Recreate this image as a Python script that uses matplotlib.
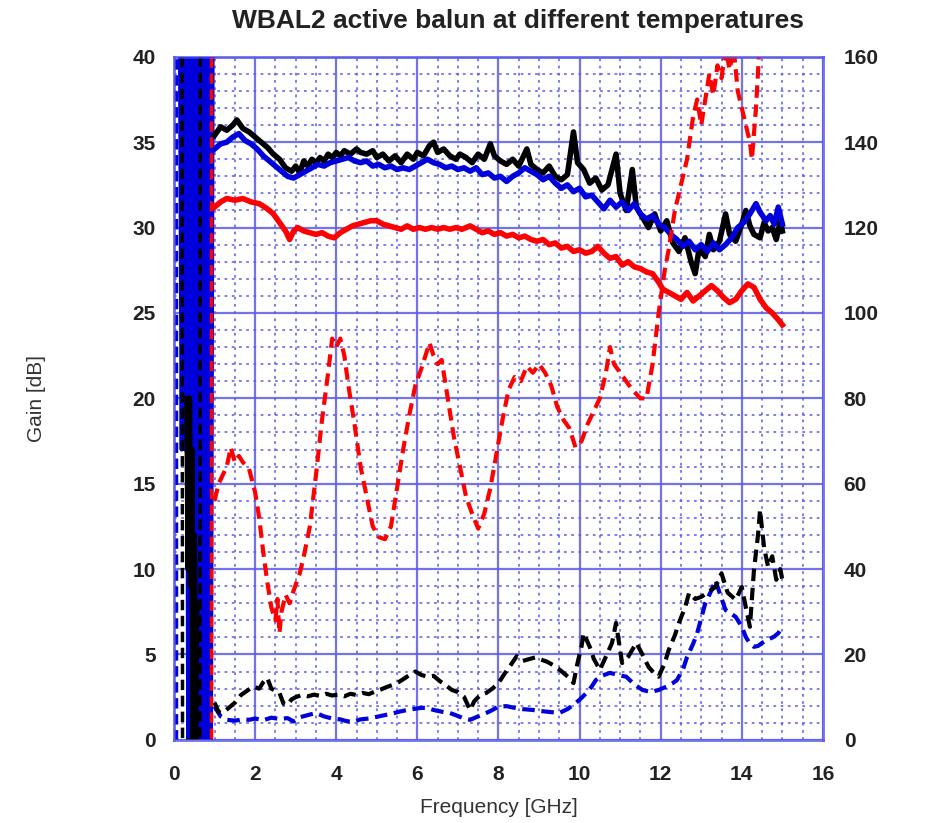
import matplotlib
matplotlib.use("Agg")
import matplotlib.pyplot as plt
import numpy as np

plt.rcParams['font.family'] = ['Liberation Sans', 'DejaVu Sans']

# ---- data ----
# gain traces (left axis, dB)
freq_k = [1.0, 1.15, 1.3, 1.45, 1.55, 1.7, 1.85, 2.0, 2.15, 2.3, 2.45, 2.6, 2.75, 2.9, 3.0, 3.1, 3.2, 3.3, 3.4, 3.5,
          3.6, 3.7, 3.8, 3.9, 4.0, 4.1, 4.2, 4.35, 4.5, 4.6, 4.75, 4.9, 5.0, 5.15, 5.3, 5.45, 5.6, 5.75, 5.9, 6.0,
          6.15, 6.3, 6.4, 6.5, 6.65, 6.8, 6.95, 7.05, 7.2, 7.35, 7.5, 7.65, 7.8, 7.9, 8.05, 8.2, 8.35, 8.5, 8.7, 8.8,
          8.95, 9.1, 9.25, 9.4, 9.55, 9.7, 9.85, 9.95, 10.1, 10.25, 10.4, 10.55, 10.7, 10.9, 11.0, 11.15, 11.3, 11.4,
          11.55, 11.7, 11.85, 12.0, 12.15, 12.3, 12.45, 12.6, 12.75, 12.85, 12.95, 13.1, 13.2, 13.3, 13.45, 13.6,
          13.7, 13.85, 14.0, 14.1, 14.2, 14.3, 14.45, 14.55, 14.65, 14.75, 14.85, 14.95, 15.0]
gain_k = [35.4, 35.9, 35.7, 36.0, 36.3, 35.8, 35.6, 35.3, 35.0, 34.7, 34.3, 34.0, 33.5, 33.3, 33.6, 33.2, 33.9, 33.6,
          34.0, 33.8, 34.1, 33.9, 34.3, 34.1, 34.4, 34.2, 34.5, 34.3, 34.6, 34.4, 34.3, 34.5, 34.1, 34.3, 33.9, 34.2,
          33.8, 34.3, 34.0, 34.4, 34.2, 34.8, 35.0, 34.4, 34.6, 34.2, 34.0, 34.3, 34.1, 33.8, 34.3, 34.0, 34.9, 34.2,
          33.9, 33.7, 34.0, 33.6, 34.6, 33.7, 33.4, 33.2, 33.6, 33.0, 32.8, 33.1, 35.6, 33.8, 33.4, 32.6, 32.9, 32.2,
          32.5, 34.3, 32.0, 31.0, 33.4, 31.2, 30.6, 30.0, 30.8, 29.8, 30.4, 29.1, 28.6, 29.4, 28.0, 27.3, 28.8, 28.3,
          29.6, 28.7, 29.2, 30.8, 29.6, 29.2, 30.2, 31.0, 30.1, 29.6, 29.4, 30.3, 29.8, 30.0, 29.3, 30.4, 29.8]

freq_b = [1.0, 1.15, 1.3, 1.45, 1.6, 1.75, 1.9, 2.05, 2.2, 2.35, 2.5, 2.65, 2.8, 2.95, 3.1, 3.25, 3.4, 3.55, 3.7,
          3.85, 4.0, 4.15, 4.3, 4.45, 4.6, 4.75, 4.9, 5.05, 5.2, 5.35, 5.5, 5.65, 5.8, 5.95, 6.1, 6.25, 6.4, 6.55,
          6.7, 6.85, 7.0, 7.15, 7.3, 7.45, 7.6, 7.75, 7.9, 8.05, 8.2, 8.35, 8.5, 8.65, 8.8, 8.95, 9.1, 9.25, 9.4,
          9.55, 9.7, 9.85, 10.0, 10.15, 10.3, 10.45, 10.6, 10.75, 10.9, 11.05, 11.2, 11.35, 11.5, 11.65, 11.8,
          11.95, 12.1, 12.25, 12.4, 12.55, 12.7, 12.85, 13.0, 13.15, 13.3, 13.45, 13.6, 13.75, 13.9, 14.05, 14.2,
          14.35, 14.45, 14.6, 14.7, 14.8, 14.9, 15.0]
gain_b = [34.6, 34.9, 35.0, 35.3, 35.5, 35.1, 34.9, 34.6, 34.2, 33.9, 33.6, 33.3, 33.0, 32.9, 33.1, 33.3, 33.5, 33.7,
          33.6, 33.8, 33.9, 34.0, 34.1, 33.9, 33.8, 33.9, 33.6, 33.7, 33.5, 33.6, 33.4, 33.5, 33.4, 33.6, 33.8, 34.0,
          33.8, 33.7, 33.5, 33.6, 33.4, 33.5, 33.3, 33.5, 33.1, 33.2, 32.9, 33.0, 32.7, 33.0, 33.2, 33.5, 33.3, 33.1,
          32.8, 33.0, 32.6, 32.3, 32.5, 32.1, 32.3, 31.8, 31.9, 31.5, 31.1, 31.6, 31.2, 31.5, 31.0, 31.4, 30.8, 30.5,
          30.7, 30.2, 30.0, 29.6, 29.3, 28.9, 29.2, 28.7, 29.0, 28.6, 29.1, 28.7, 29.0, 29.4, 30.0, 30.3, 30.8, 31.4,
          30.9, 30.4, 30.7, 30.2, 31.2, 30.2]

freq_r = [1.0, 1.15, 1.3, 1.5, 1.7, 1.9, 2.1, 2.3, 2.45, 2.6, 2.75, 2.85, 2.95, 3.05, 3.2, 3.35, 3.5, 3.65, 3.8, 3.95,
          4.1, 4.25, 4.4, 4.55, 4.7, 4.85, 5.0, 5.15, 5.3, 5.45, 5.6, 5.75, 5.9, 6.05, 6.2, 6.35, 6.5, 6.65, 6.8,
          6.95, 7.1, 7.3, 7.45, 7.6, 7.75, 7.9, 8.05, 8.2, 8.35, 8.5, 8.65, 8.8, 8.95, 9.1, 9.25, 9.4, 9.55, 9.7,
          9.85, 10.0, 10.15, 10.3, 10.45, 10.6, 10.75, 10.9, 11.05, 11.2, 11.35, 11.5, 11.65, 11.8, 11.95, 12.05,
          12.2, 12.35, 12.5, 12.65, 12.8, 12.95, 13.1, 13.25, 13.4, 13.55, 13.7, 13.85, 14.0, 14.15, 14.3, 14.45,
          14.6, 14.75, 14.9, 15.0]
gain_r = [31.2, 31.5, 31.7, 31.6, 31.7, 31.5, 31.4, 31.1, 30.8, 30.3, 29.8, 29.3, 29.8, 30.0, 29.8, 29.7, 29.6, 29.7,
          29.5, 29.4, 29.7, 29.9, 30.1, 30.2, 30.3, 30.4, 30.4, 30.2, 30.1, 30.0, 29.9, 30.1, 29.9, 30.0, 29.9, 30.0,
          29.9, 30.0, 29.9, 30.0, 29.9, 30.1, 29.9, 29.7, 29.8, 29.6, 29.7, 29.5, 29.6, 29.4, 29.5, 29.3, 29.2, 29.3,
          29.0, 29.1, 28.8, 28.9, 28.6, 28.7, 28.5, 28.6, 28.9, 28.5, 28.2, 28.3, 27.8, 28.0, 27.7, 27.6, 27.4, 27.3,
          26.8, 26.4, 26.2, 26.0, 25.8, 26.2, 25.7, 26.0, 26.3, 26.6, 26.3, 25.9, 25.6, 25.8, 26.3, 26.7, 26.5, 25.8,
          25.3, 25.0, 24.6, 24.3]

# dashed traces (right axis)
freq_rd = [1.0, 1.1, 1.2, 1.3, 1.4, 1.5, 1.6, 1.7, 1.85, 2.0, 2.1, 2.2, 2.3, 2.4, 2.5, 2.55, 2.6, 2.65, 2.75, 2.85,
           2.95, 3.1, 3.2, 3.35, 3.5, 3.65, 3.8, 3.9, 4.0, 4.1, 4.2, 4.3, 4.45, 4.6, 4.75, 4.9, 5.05, 5.2, 5.35,
           5.5, 5.65, 5.8, 5.95, 6.1, 6.2, 6.3, 6.4, 6.5, 6.6, 6.75, 6.9, 7.05, 7.2, 7.35, 7.5, 7.65, 7.8, 7.95,
           8.1, 8.25, 8.4, 8.55, 8.7, 8.85, 9.0, 9.15, 9.3, 9.45, 9.6, 9.75, 9.9, 10.05, 10.2, 10.35, 10.5, 10.65,
           10.75, 10.85, 11.0, 11.15, 11.3, 11.5, 11.65, 11.8, 11.95, 12.1, 12.2, 12.35, 12.5, 12.65, 12.8, 12.9,
           13.0, 13.1, 13.2, 13.3, 13.4, 13.5, 13.6, 13.7, 13.8, 13.9, 14.0, 14.1, 14.2, 14.25, 14.35, 14.45]
val_rd = [56, 60, 62, 64, 68.5, 65, 66.5, 65, 63.5, 58, 52, 44, 37, 31, 28, 33, 25, 30, 34, 32, 35, 39, 43, 50, 62,
          75, 86, 94, 92, 94, 90, 83, 74, 64, 57, 50, 47.5, 47, 50, 59, 68, 76, 83, 87, 90, 93, 90, 88, 89, 80, 71,
          64, 57, 53, 49.5, 53, 59, 67, 75, 82, 85, 84, 87.5, 86, 88, 86, 83, 78, 75, 73, 68.5, 70, 74, 77, 80, 86,
          92, 88, 86, 84, 82, 80, 80, 88, 100, 110, 115, 124, 130, 136, 146, 150, 144, 150, 156, 151, 158, 155, 162,
          157, 162, 152, 148, 144, 140, 136, 148, 165]

freq_kd = [1.0, 1.1, 1.2, 1.35, 1.5, 1.65, 1.8, 1.95, 2.1, 2.2, 2.3, 2.4, 2.5, 2.6, 2.7, 2.8, 2.9, 3.0, 3.15, 3.3,
           3.45, 3.6, 3.75, 3.9, 4.05, 4.2, 4.35, 4.5, 4.65, 4.8, 4.95, 5.1, 5.25, 5.4, 5.55, 5.7, 5.85, 5.95, 6.1,
           6.25, 6.4, 6.55, 6.7, 6.85, 7.0, 7.15, 7.3, 7.4, 7.55, 7.7, 7.85, 8.0, 8.15, 8.3, 8.45, 8.6, 8.75, 8.9,
           9.05, 9.2, 9.35, 9.5, 9.6, 9.75, 9.85, 9.95, 10.05, 10.1, 10.25, 10.35, 10.5, 10.65, 10.8, 10.9, 11.0,
           11.05, 11.2, 11.4, 11.55, 11.7, 11.85, 11.95, 12.1, 12.2, 12.35, 12.45, 12.6, 12.7, 12.85, 13.0, 13.15,
           13.35, 13.5, 13.65, 13.85, 14.0, 14.1, 14.2, 14.3, 14.4, 14.45, 14.55, 14.65, 14.75, 14.85, 14.95, 15.0]
val_kd = [8.7, 6.5, 6.3, 7.5, 8.7, 10.5, 11.5, 12.5, 12.0, 13.5, 14.5, 12.0, 11.5, 11.0, 8.5, 8.2, 9.5, 10.0, 10.5,
          10.2, 10.6, 10.3, 10.8, 10.4, 10.6, 10.2, 10.8, 10.5, 11.0, 10.7, 11.3, 11.8, 12.4, 12.9, 13.6, 14.5, 15.5,
          16.0, 15.2, 14.8, 15.0, 13.8, 12.8, 11.7, 11.2, 10.1, 7.0, 9.0, 10.5, 11.0, 12.0, 13.3, 15.5, 17.5, 19.6,
          18.5, 18.9, 19.3, 18.8, 18.3, 17.5, 16.5, 15.7, 14.5, 13.3, 18.0, 22.0, 25.0, 21.8, 19.0, 16.4, 19.5, 22.7,
          27.4, 21.0, 18.0, 19.5, 22.7, 20.0, 17.1, 15.5, 14.8, 18.0, 21.1, 24.5, 27.4, 31.0, 34.4, 33.0, 33.5, 34.5,
          35.8, 39.0, 34.5, 32.8, 35.8, 31.0, 26.5, 39.8, 48.0, 53.8, 45.0, 40.5, 43.0, 37.5, 40.0, 37.5]

freq_bd = [1.0, 1.15, 1.3, 1.5, 1.7, 1.85, 2.0, 2.2, 2.4, 2.6, 2.8, 2.95, 3.1, 3.3, 3.5, 3.7, 3.9, 4.1, 4.25, 4.4,
           4.6, 4.8, 5.0, 5.2, 5.4, 5.55, 5.75, 5.95, 6.1, 6.25, 6.4, 6.6, 6.8, 7.0, 7.15, 7.3, 7.5, 7.7, 7.85, 8.0,
           8.2, 8.4, 8.6, 8.85, 9.1, 9.3, 9.5, 9.7, 9.85, 10.0, 10.15, 10.3, 10.4, 10.55, 10.75, 10.95, 11.15, 11.35,
           11.55, 11.75, 11.95, 12.15, 12.3, 12.4, 12.55, 12.65, 12.8, 12.9, 13.0, 13.1, 13.25, 13.35, 13.45, 13.6,
           13.75, 13.85, 14.0, 14.1, 14.2, 14.3, 14.4, 14.5, 14.65, 14.8, 14.9, 15.0]
val_bd = [7.8, 5.5, 4.7, 4.5, 4.8, 4.7, 5.0, 4.6, 5.2, 4.9, 5.1, 4.3, 5.3, 5.8, 6.3, 5.5, 5.0, 4.8, 4.4, 4.2, 4.8,
          5.0, 5.4, 5.8, 6.2, 6.6, 7.0, 7.3, 7.5, 7.5, 7.0, 6.6, 6.3, 5.6, 5.0, 4.7, 5.5, 6.3, 7.0, 7.8, 7.9, 7.5,
          7.2, 7.0, 6.7, 6.5, 6.3, 7.2, 8.2, 9.4, 10.8, 12.5, 14.0, 15.0, 15.7, 15.2, 14.8, 13.0, 11.7, 11.2, 11.7,
          12.5, 13.3, 14.0, 16.5, 19.4, 22.5, 25.0, 28.5, 32.0, 35.0, 37.4, 34.5, 30.4, 29.5, 28.8, 26.5, 24.1, 22.5,
          21.8, 22.0, 22.7, 23.5, 24.2, 25.0, 26.5]

# below 1 GHz the traces swing across the whole range
lf_freq_b = [0.15, 0.19, 0.23, 0.27, 0.31, 0.35, 0.39, 0.43, 0.47, 0.51, 0.55, 0.59, 0.63, 0.67, 0.71, 0.75,
             0.79, 0.83, 0.87, 0.91, 0.95]
lf_gain_b = [40, 17, 40, 17, 40, 0, 40, 0, 40, 0, 40, 0, 40, 0, 40, 0, 40, 0, 40, 0, 40]
lf_freq_k = [0.32, 0.35, 0.38, 0.41, 0.44, 0.47, 0.50, 0.53, 0.56]
lf_gain_k = [20, 10, 20, 9, 17, 0, 12, 0, 8]
lf_freq_kd = [0.20, 0.21, 0.64, 0.65]
lf_val_kd = [160, 0, 0, 160]
lf_freq_bd = [0.06, 0.06]
lf_val_bd = [0, 160]
lf_freq_rd = [0.90, 0.90]
lf_val_rd = [160, 0]

grid_col = '#5b5be8'

fig, ax = plt.subplots(figsize=(9.33, 8.23), dpi=100)
fig.subplots_adjust(left=0.1865, right=0.882, bottom=0.101, top=0.931)
ax2 = ax.twinx()

# solid gain traces
ax.plot(lf_freq_b, lf_gain_b, color='#0000dd', lw=3, zorder=3)
ax.plot(lf_freq_k, lf_gain_k, color='black', lw=4, zorder=3)
ax.plot(freq_k, gain_k, color='black', lw=4, zorder=3)
ax.plot(freq_b, gain_b, color='#0000dd', lw=4, zorder=3)
ax.plot(freq_r, gain_r, color='red', lw=4, zorder=3)

# dashed traces on right axis
dash = (3, 1.6)
ax2.plot(lf_freq_bd, lf_val_bd, color='#0000dd', lw=2.5, dashes=dash)
ax2.plot(lf_freq_kd, lf_val_kd, color='black', lw=2.5, dashes=dash)
ax2.plot(lf_freq_rd, lf_val_rd, color='red', lw=2.5, dashes=dash)
ax2.plot(freq_bd, val_bd, color='#0000dd', lw=3, dashes=dash)
ax2.plot(freq_kd, val_kd, color='black', lw=3, dashes=dash)
ax2.plot(freq_rd, val_rd, color='red', lw=3, dashes=dash)

ax.set_xlim(0, 16)
ax.set_ylim(0, 40)
ax2.set_ylim(0, 160)
ax.set_xticks(np.arange(0, 17, 2))
ax.set_yticks(np.arange(0, 41, 5))
ax2.set_yticks(np.arange(0, 161, 20))
ax.set_xticks(np.arange(0, 16.1, 0.5), minor=True)
ax.set_yticks(np.arange(0, 40.1, 1), minor=True)

ax.grid(which='major', color=grid_col, lw=1.6, alpha=0.85, zorder=0)
ax.grid(which='minor', color=grid_col, lw=1.3, ls=(0, (1.5, 2.5)), alpha=0.85, zorder=0)
ax.set_axisbelow(True)

for a in (ax, ax2):
    for s in a.spines.values():
        s.set_color(grid_col)
        s.set_alpha(0.6)
        s.set_linewidth(2)
    a.tick_params(which='both', length=0, labelsize=15, labelcolor='#222222')
ax.tick_params(axis='y', pad=13)
ax.tick_params(axis='x', pad=18)
ax2.tick_params(axis='y', pad=15)
for lab in ax.get_xticklabels() + ax.get_yticklabels() + ax2.get_yticklabels():
    lab.set_fontweight('bold')

ax.set_xlabel("Frequency [GHz]", fontsize=15, color='#333333', labelpad=10)
ax.set_ylabel("Gain [dB]", fontsize=15, color='#333333', labelpad=62)
fig.text(0.555, 0.975, "WBAL2 active balun at different temperatures",
         ha='center', va='center', fontsize=19, fontweight='bold', color='#222222')

plt.savefig('out.png', dpi=100)
